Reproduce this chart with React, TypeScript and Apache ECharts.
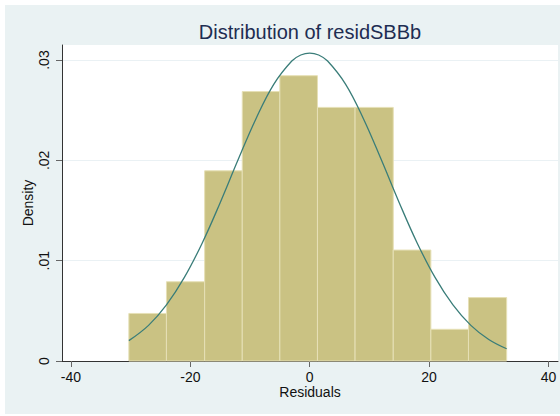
import React, { useEffect, useRef } from "react";
import * as echarts from "echarts";

// Histogram bins (edges) and densities
const binEdges = [-30.3, -24.0, -17.6, -11.3, -5.0, 1.3, 7.6, 14.0, 20.3, 26.6, 33.0];
const densities = [0.00474, 0.0079, 0.01896, 0.02686, 0.02844, 0.02528, 0.02528, 0.01106, 0.00316, 0.00632];

// Normal density overlay
const curveX = [-30.3, -27, -24, -21, -18, -15, -12, -9, -6, -3, -1.5, 0, 1.5, 3, 6, 9, 12, 15, 18, 21, 24, 27, 30, 33];
const curveY = [0.00203, 0.00355, 0.00559, 0.00833, 0.01177, 0.01578, 0.02005, 0.02415, 0.0276, 0.0299, 0.0305, 0.0307, 0.0305, 0.0299, 0.0276, 0.02415, 0.02005, 0.01578, 0.01177, 0.00833, 0.00559, 0.00355, 0.00214, 0.00122];

const xTicks = [-40, -20, 0, 20, 40];
const yTicks = [0, 0.01, 0.02, 0.03];

const titleText = "Distribution of residSBBb";
const xName = "Residuals";
const yName = "Density";

export default function App() {
  const ref = useRef<HTMLDivElement>(null);
  useEffect(() => {
    document.body.style.margin = "0";
    const chart = echarts.init(ref.current!, undefined, { renderer: "svg" });
    const barData = densities.map((d, i) => [binEdges[i], binEdges[i + 1], d]);
    const lineData = curveX.map((x, i) => [x, curveY[i]]);
    const font = "'Liberation Sans', Arial, Helvetica, sans-serif";
    chart.setOption({
      animation: false,
      backgroundColor: "transparent",
      textStyle: { fontFamily: font },
      grid: {
        left: 62,
        top: 45,
        right: 2,
        bottom: 55,
        show: true,
        backgroundColor: "#ffffff",
        borderWidth: 0,
      },
      graphic: [
        {
          type: "text",
          x: 310,
          y: 32,
          style: {
            text: titleText,
            fill: "#1e2d52",
            font: `20px ${font}`,
            textAlign: "center",
            textVerticalAlign: "middle",
          },
        },
      ],
      xAxis: {
        type: "value",
        min: -41.5,
        max: 41.6,
        name: xName,
        nameLocation: "middle",
        nameGap: 24,
        nameMoveOverlap: false,
        nameTextStyle: { fontSize: 14, color: "#111", fontFamily: font },
        axisLine: { show: true, onZero: false, lineStyle: { color: "#333", width: 1 } },
        axisTick: { show: true, length: 6, customValues: xTicks, lineStyle: { color: "#666" } },
        axisLabel: {
          customValues: xTicks,
          fontSize: 14,
          color: "#111",
          margin: 9,
          fontFamily: font,
        },
        splitLine: { show: false },
      },
      yAxis: {
        type: "value",
        min: 0,
        max: 0.0315,
        name: yName,
        nameLocation: "middle",
        nameGap: 27,
        nameMoveOverlap: false,
        nameTextStyle: { fontSize: 14, color: "#111", fontFamily: font },
        axisLine: { show: true, onZero: false, lineStyle: { color: "#333", width: 1 } },
        axisTick: { show: true, length: 6, customValues: yTicks, lineStyle: { color: "#666" } },
        axisLabel: {
          customValues: yTicks,
          rotate: 90,
          fontSize: 14,
          color: "#111",
          margin: 11,
          fontFamily: font,
          formatter: (v: number) => (v === 0 ? "0" : v.toFixed(2).replace(/^0/, "")),
        },
        splitLine: { show: true, lineStyle: { color: "#eaf1f4", width: 1 } },
      },
      series: [
        {
          type: "custom",
          z: 2,
          data: barData,
          encode: { x: [0, 1], y: 2 },
          renderItem: (params: any, api: any) => {
            const p0 = api.coord([api.value(0), api.value(2)]);
            const p1 = api.coord([api.value(1), 0]);
            return {
              type: "rect",
              shape: { x: p0[0], y: p0[1], width: p1[0] - p0[0], height: p1[1] - p0[1] },
              style: { fill: "#cac283", stroke: "#e6e0b6", lineWidth: 1 },
            };
          },
        },
        {
          type: "line",
          z: 3,
          data: lineData,
          smooth: 0.4,
          showSymbol: false,
          symbol: "none",
          lineStyle: { color: "#3a7d79", width: 1.3 },
        },
      ],
    });
    return () => chart.dispose();
  }, []);
  return (
    <div style={{ position: "fixed", left: 0, top: 0, width: 560, height: 416, background: "#ffffff" }}>
      <div
        style={{ position: "absolute", left: 5, top: 5, width: 555, height: 409, background: "#eaf2f3" }}
      />
      <div ref={ref} style={{ position: "absolute", left: 0, top: 0, width: 560, height: 416 }} />
    </div>
  );
}
